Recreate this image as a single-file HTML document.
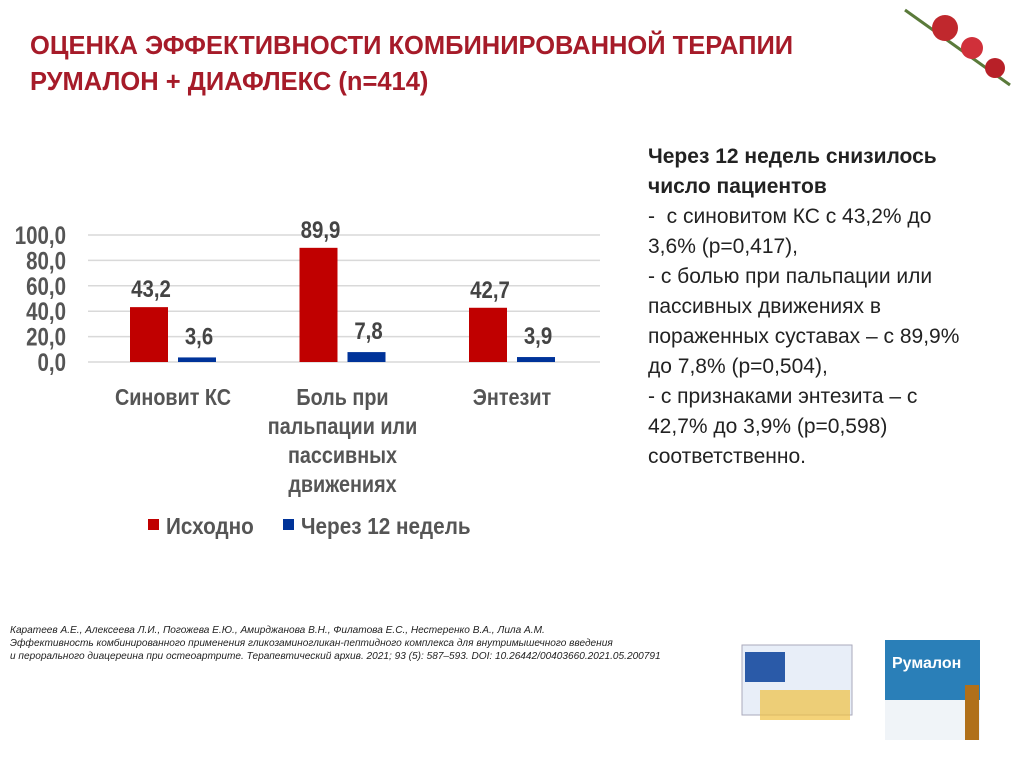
<!DOCTYPE html>
<html><head><meta charset="utf-8"><style>
body{margin:0;width:1024px;height:767px;background:#fff;position:relative;overflow:hidden;font-family:"Liberation Sans",sans-serif}
.t{position:absolute;left:30px;top:28px;color:#a61b29;font-weight:bold;font-size:25.5px;line-height:36px}
.r{position:absolute;left:648px;top:142px;font-size:21px;line-height:30px;color:#222;width:380px}
.fn{position:absolute;left:10px;top:624px;font-size:10.1px;line-height:13px;color:#222;font-style:italic;white-space:nowrap}
</style></head><body>
<div class="t">ОЦЕНКА ЭФФЕКТИВНОСТИ КОМБИНИРОВАННОЙ ТЕРАПИИ<br>РУМАЛОН + ДИАФЛЕКС (n=414)</div>
<div class="r"><b>Через 12 недель снизилось<br>число пациентов</b><br>-&nbsp; с синовитом КС с 43,2% до<br>3,6% (p=0,417),<br>- с болью при пальпации или<br>пассивных движениях в<br>пораженных суставах – с 89,9%<br>до 7,8% (p=0,504),<br>- с признаками энтезита – с<br>42,7% до 3,9% (p=0,598)<br>соответственно.</div>
<div class="fn">Каратеев А.Е., Алексеева Л.И., Погожева Е.Ю., Амирджанова В.Н., Филатова Е.С., Нестеренко В.А., Лила А.М.<br>Эффективность комбинированного применения гликозаминогликан-пептидного комплекса для внутримышечного введения<br>и перорального диацереина при остеоартрите. Терапевтический архив. 2021; 93 (5): 587–593. DOI: 10.26442/00403660.2021.05.200791</div>
<svg width="1024" height="767" style="position:absolute;left:0;top:0">
<g id="decor">
<g><path d="M905 10 L1010 85" stroke="#5a7a3a" stroke-width="3"/><circle cx="945" cy="28" r="13" fill="#c0282d"/><circle cx="972" cy="48" r="11" fill="#d0303a"/><circle cx="995" cy="68" r="10" fill="#b82028"/></g>
<g><rect x="742" y="645" width="110" height="70" fill="#e8eef8" stroke="#aab"/><rect x="745" y="652" width="40" height="30" fill="#2a5aa8"/><rect x="760" y="690" width="90" height="30" fill="#f0c040" opacity="0.7"/><rect x="885" y="640" width="95" height="100" fill="#2a7fb8"/><rect x="885" y="700" width="95" height="40" fill="#f0f4f8"/><text x="892" y="668" fill="#fff" font-size="16" font-weight="bold" font-family="Liberation Sans">Румалон</text><rect x="965" y="685" width="14" height="55" fill="#b0701a"/></g>
</g>
<g id="plot"></g>
</svg>
<script>
const categories=[["Синовит КС"],["Боль при","пальпации или","пассивных","движениях"],["Энтезит"]];
const baseline=[43.2,89.9,42.7];
const after12=[3.6,7.8,3.9];
const ticks=[0,20,40,60,80,100];
const tickLabels=["0,0","20,0","40,0","60,0","80,0","100,0"];
const NS="http://www.w3.org/2000/svg";
const g=document.getElementById('plot');
const y=v=>362-v*1.27;
const cx=i=>173+i*169.5;
function el(t,a,txt){const e=document.createElementNS(NS,t);for(const k in a)e.setAttribute(k,a[k]);if(txt!=null)e.textContent=txt;g.appendChild(e);return e;}
function sq(e,f){const w=e.getComputedTextLength();e.setAttribute('textLength',w*f);e.setAttribute('lengthAdjust','spacingAndGlyphs');}
const F='Liberation Sans';
ticks.forEach((t,i)=>{
 const l=el('line',{x1:88,x2:600,y1:y(t),y2:y(t),stroke:'#d9d9d9','stroke-width':1.5});
 
 
 const tx=el('text',{x:66,y:y(t)+9,'text-anchor':'end','font-size':25,fill:'#555','font-weight':'bold','font-family':F},tickLabels[i]);
 sq(tx,0.82);
 
 
});
const fmt=v=>v.toFixed(1).replace('.',',');
categories.forEach((c,i)=>{
 const c0=cx(i);
 const b1=el('rect',{x:c0-43,y:y(baseline[i]),width:38,height:362-y(baseline[i]),fill:'#c00000'});
 
 
 const b2=el('rect',{x:c0+5,y:y(after12[i]),width:38,height:362-y(after12[i]),fill:'#003399'});
 
 
 const l1=el('text',{x:c0-22,y:y(baseline[i])-10,'text-anchor':'middle','font-size':24,'font-weight':'bold',fill:'#444','font-family':F},fmt(baseline[i]));
 sq(l1,0.85);
 
 
 const l2=el('text',{x:c0+26,y:y(after12[i])-13,'text-anchor':'middle','font-size':24,'font-weight':'bold',fill:'#444','font-family':F},fmt(after12[i]));
 sq(l2,0.85);
 
 
 c.forEach((s,j)=>{
  const t=el('text',{x:c0,y:405+j*29,'text-anchor':'middle','font-size':23,'font-weight':'bold',fill:'#555','font-family':F},s);
  sq(t,0.86);
  
  
 });
});
const lg=[["Исходно","#c00000",148],["Через 12 недель","#003399",283]];
lg.forEach(a=>{
 const r=el('rect',{x:a[2],y:519,width:11,height:11,fill:a[1]});
 
 
 const t=el('text',{x:a[2]+18,y:534,'font-size':23,'font-weight':'bold',fill:'#555','font-family':F},a[0]);
 sq(t,0.9);
 
 
});
</script>
</body></html>
